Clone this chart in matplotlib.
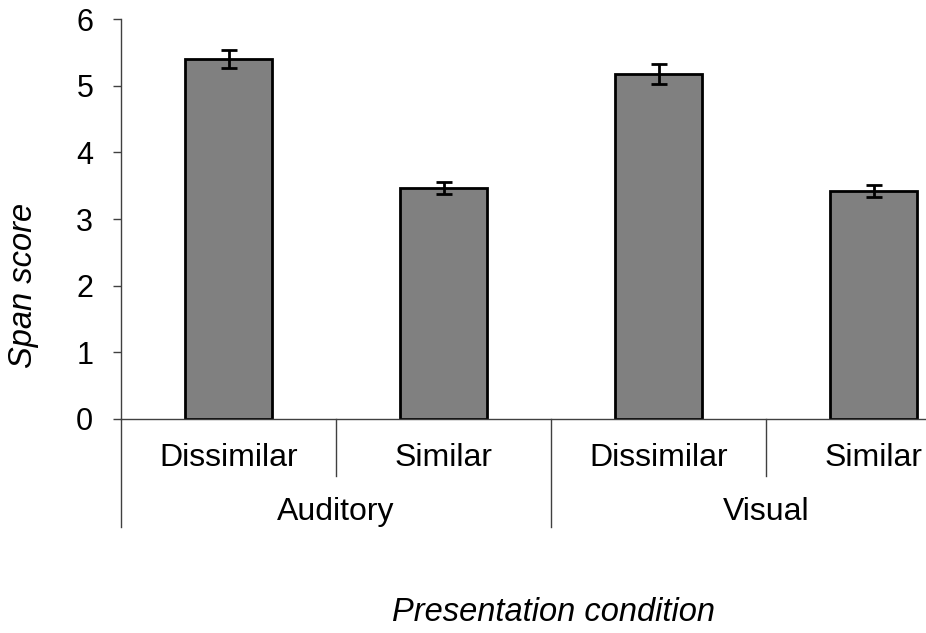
import matplotlib.pyplot as plt
from matplotlib.transforms import blended_transform_factory

plt.rcParams['font.family'] = ['Liberation Sans', 'DejaVu Sans']

conditions = ['Dissimilar', 'Similar', 'Dissimilar', 'Similar']
groups = ['Auditory', 'Visual']
scores = [5.40, 3.46, 5.17, 3.42]
errors = [0.14, 0.09, 0.15, 0.09]
yticks = [0, 1, 2, 3, 4, 5, 6]

W, H = 926, 633
fig = plt.figure(figsize=(W / 100, H / 100), dpi=100)
ax = fig.add_axes([121 / W, 214 / H, 860 / W, 400 / H])

x = list(range(len(scores)))
ax.bar(x, scores, width=0.405, color='#808080', edgecolor='black', linewidth=2, zorder=2)
ax.errorbar(x, scores, yerr=errors, fmt='none', ecolor='black', elinewidth=2,
            capsize=6, capthick=2, zorder=3)

ax.set_xlim(-0.5, 3.5)
ax.set_ylim(0, 6)
ax.set_yticks(yticks)
ax.set_yticklabels([str(t) for t in yticks], fontsize=22)
ax.tick_params(axis='y', direction='out', length=6, width=1, color='#404040', pad=14)
ax.set_xticks([])
for s in ['top', 'right']:
    ax.spines[s].set_visible(False)
for s in ['left', 'bottom']:
    ax.spines[s].set_color('#404040')
    ax.spines[s].set_linewidth(1)

tr = blended_transform_factory(ax.transData, ax.transAxes)
for i, c in enumerate(conditions):
    ax.text(i, -0.0975, c, transform=tr, ha='center', va='center', fontsize=23)
for j, g in enumerate(groups):
    ax.text(2 * j + 0.5, -0.232, g, transform=tr, ha='center', va='center', fontsize=23)

# category dividers below the axis
for xd in [0.5, 2.5]:
    ax.plot([xd, xd], [0, -0.1425], transform=tr, color='#404040', lw=1, clip_on=False)
for xd in [-0.5, 1.5, 3.5]:
    ax.plot([xd, xd], [0, -0.27], transform=tr, color='#404040', lw=1, clip_on=False)

fig.text(24 / W, 1 - 285 / H, 'Span score', rotation=90, ha='center', va='center',
         fontsize=23.5, style='italic')
fig.text(554 / W, 1 - 621 / H, 'Presentation condition', ha='center', va='baseline',
         fontsize=23.5, style='italic')

fig.savefig('out.png', dpi=100)
